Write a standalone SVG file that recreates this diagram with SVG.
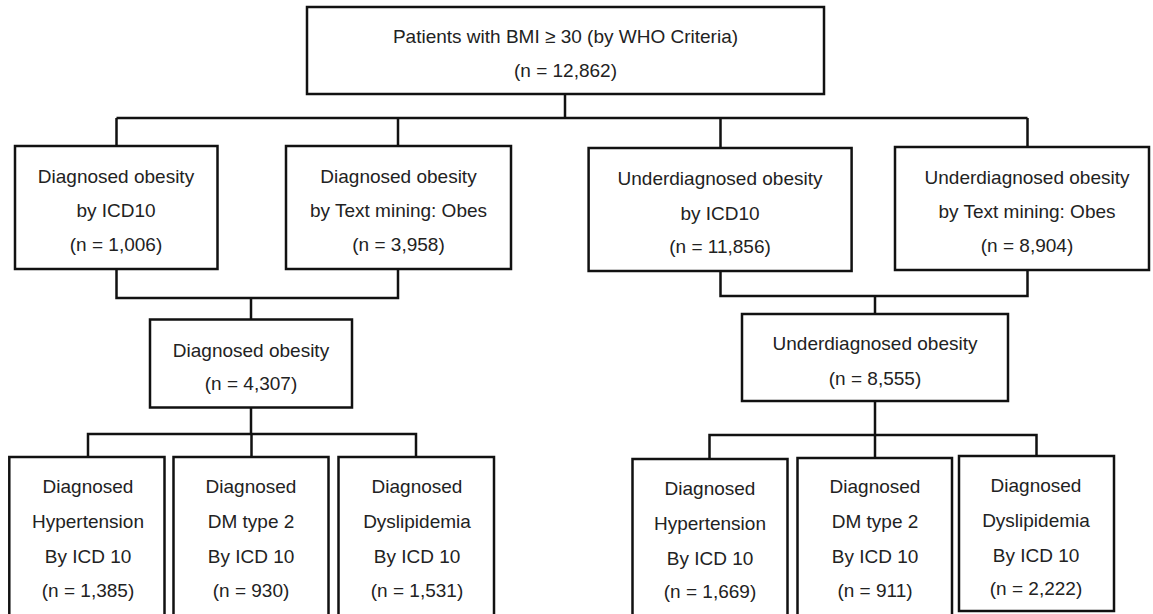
<svg xmlns="http://www.w3.org/2000/svg" width="1153" height="614" viewBox="0 0 1153 614">
<style>
.box{fill:#fff;stroke:#111;stroke-width:2.5}
.c{fill:none;stroke:#111;stroke-width:2.5}
text{font-family:"Liberation Sans",Arial,sans-serif;font-size:19px;fill:#222;text-anchor:middle}
</style>
<rect width="1153" height="614" fill="#fff"/>
<g id="connectors" class="c">
<path d="M565,94V118M116.5,118H1027.5M116.5,118V146M398,118V146M720.5,118V148M1027.5,118V147"/>
<path d="M116.5,269V298H398V269M251,298V320"/>
<path d="M720.5,271V296H1027.5V270M875,296V314"/>
<path d="M251,407.5V434M88,457V434H416V457M251.5,434V457"/>
<path d="M875,401V435M709.5,459V435H1036.5V456M875,435V458"/>
</g>
<g id="root"><rect class="box" x="307" y="7" width="517" height="87"/><text x="565.5" y="43">Patients with BMI ≥ 30 (by WHO Criteria)</text><text x="565.5" y="77">(n = 12,862)</text></g>
<g id="dx-icd"><rect class="box" x="15" y="146" width="202.5" height="123"/><text x="116" y="183">Diagnosed obesity</text><text x="116" y="217">by ICD10</text><text x="116" y="251">(n = 1,006)</text></g>
<g id="dx-text"><rect class="box" x="286" y="146" width="225" height="123"/><text x="398.5" y="183">Diagnosed obesity</text><text x="398.5" y="217">by Text mining: Obes</text><text x="398.5" y="251">(n = 3,958)</text></g>
<g id="under-icd"><rect class="box" x="588.6" y="148" width="263" height="123"/><text x="720" y="185">Underdiagnosed obesity</text><text x="720" y="220">by ICD10</text><text x="720" y="253">(n = 11,856)</text></g>
<g id="under-text"><rect class="box" x="895" y="147" width="254" height="123"/><text x="1027" y="184">Underdiagnosed obesity</text><text x="1027" y="218">by Text mining: Obes</text><text x="1027" y="252">(n = 8,904)</text></g>
<g id="dx"><rect class="box" x="150" y="319.5" width="202" height="88"/><text x="251" y="357">Diagnosed obesity</text><text x="251" y="390">(n = 4,307)</text></g>
<g id="under"><rect class="box" x="742" y="314" width="266" height="87"/><text x="875" y="350">Underdiagnosed obesity</text><text x="875" y="385">(n = 8,555)</text></g>
<g id="dx-ht"><rect class="box" x="9.3" y="457" width="155.2" height="160"/><text x="88" y="493">Diagnosed</text><text x="88" y="528">Hypertension</text><text x="88" y="563">By ICD 10</text><text x="88" y="596.5">(n = 1,385)</text></g>
<g id="dx-dm"><rect class="box" x="173.5" y="457" width="155" height="160"/><text x="251" y="493">Diagnosed</text><text x="251" y="528">DM type 2</text><text x="251" y="563">By ICD 10</text><text x="251" y="596.5">(n = 930)</text></g>
<g id="dx-dl"><rect class="box" x="338.5" y="457" width="155.5" height="160"/><text x="417" y="493">Diagnosed</text><text x="417" y="528">Dyslipidemia</text><text x="417" y="563">By ICD 10</text><text x="417" y="596.5">(n = 1,531)</text></g>
<g id="un-ht"><rect class="box" x="632.5" y="459" width="155" height="158"/><text x="710" y="495">Diagnosed</text><text x="710" y="530">Hypertension</text><text x="710" y="565">By ICD 10</text><text x="710" y="598">(n = 1,669)</text></g>
<g id="un-dm"><rect class="box" x="797.5" y="458" width="154.5" height="159"/><text x="875" y="493">Diagnosed</text><text x="875" y="528">DM type 2</text><text x="875" y="563">By ICD 10</text><text x="875" y="597">(n = 911)</text></g>
<g id="un-dl"><rect class="box" x="959" y="456" width="155" height="155"/><text x="1036" y="492">Diagnosed</text><text x="1036" y="527">Dyslipidemia</text><text x="1036" y="562">By ICD 10</text><text x="1036" y="595">(n = 2,222)</text></g>
</svg>
